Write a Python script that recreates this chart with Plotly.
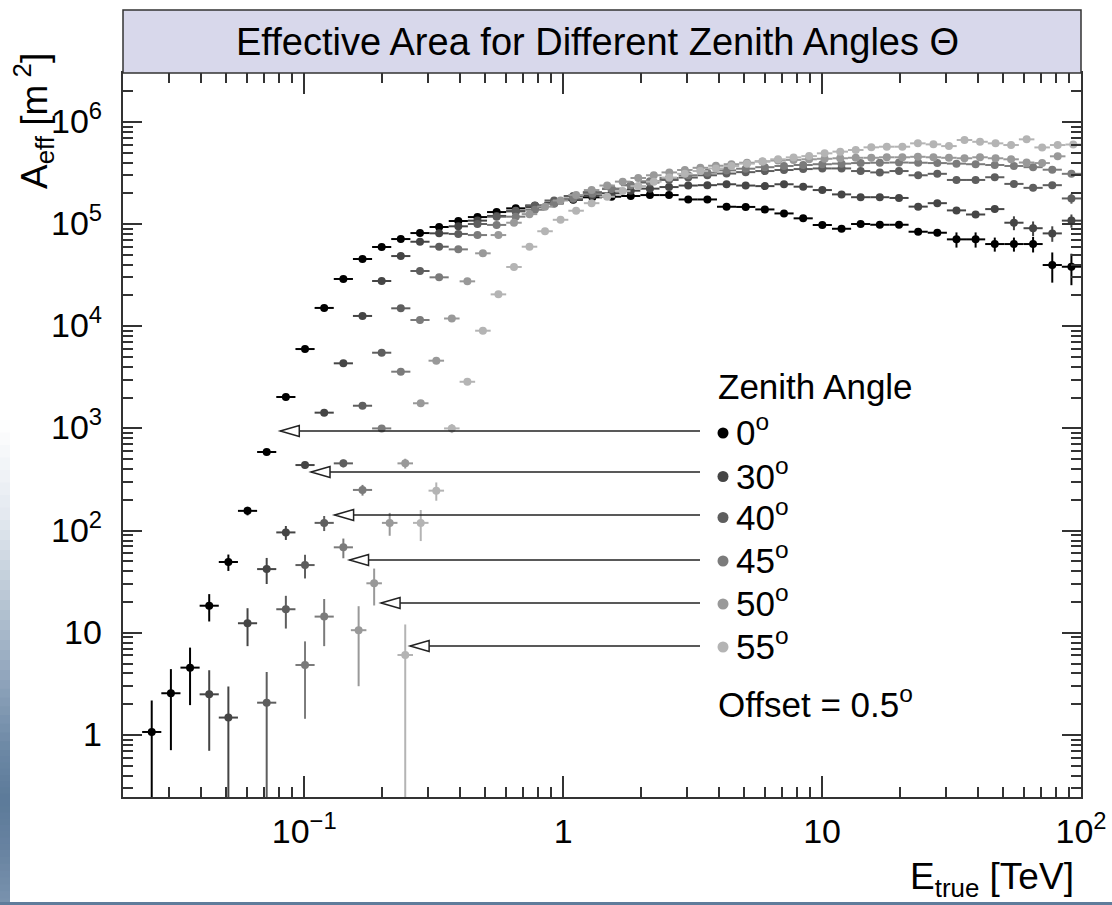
import math
import plotly.graph_objects as go

# ---------------------------------------------------------------------------
# Energy binning: bin centres in TeV
# E_FULL : 50 log bins from 10^-1.7 to 10^2 TeV (0, 30, 40, 45 deg tables)
# E_HIGH : 50 log bins from 10^-1.0 to 10^2 TeV (50, 55 deg tables)
# ---------------------------------------------------------------------------
E_FULL = [0.02173, 0.02576, 0.03055, 0.03622, 0.04295, 0.05093, 0.06039, 0.07161,
          0.08492, 0.1007, 0.1194, 0.1416, 0.1679, 0.1991, 0.2360, 0.2799, 0.3319,
          0.3936, 0.4667, 0.5534, 0.6561, 0.7780, 0.9226, 1.094, 1.297, 1.538,
          1.824, 2.163, 2.564, 3.041, 3.606, 4.276, 5.070, 6.012, 7.129, 8.453,
          10.02, 11.89, 14.09, 16.71, 19.82, 23.50, 27.86, 33.04, 39.17, 46.45,
          55.08, 65.31, 77.45, 91.83]
HALF_FULL = 0.037

E_HIGH = [0.1072, 0.1230, 0.1413, 0.1622, 0.1862, 0.2138, 0.2455, 0.2818, 0.3236,
          0.3715, 0.4266, 0.4898, 0.5623, 0.6457, 0.7413, 0.8511, 0.9772, 1.122,
          1.288, 1.479, 1.698, 1.950, 2.239, 2.570, 2.951, 3.388, 3.890, 4.467,
          5.129, 5.888, 6.761, 7.762, 8.913, 10.23, 11.75, 13.49, 15.49, 17.78,
          20.42, 23.44, 26.92, 30.90, 35.48, 40.74, 46.77, 53.70, 61.66, 70.79,
          81.28, 93.33]
HALF_HIGH = 0.030

# ---------------------------------------------------------------------------
# Effective areas [m^2] and statistical errors, one list per zenith angle,
# starting at the first filled bin of the corresponding energy grid
# ---------------------------------------------------------------------------
ANGLES = ["0", "30", "40", "45", "50", "55"]
COLORS = ["#000000", "#454545", "#5e5e5e", "#7b7b7b", "#999999", "#b4b4b4"]
GRIDS = ["full", "full", "full", "full", "high", "high"]
FIRST_BIN = [1, 4, 7, 9, 3, 6]

A_00 = [1.07, 2.56, 4.56, 18.4, 49.3, 156, 588, 2030, 5980, 15100, 29000, 45500,
        59600, 71300, 81600, 93500, 107000, 117000, 131000, 142500, 151000, 161600,
        173000, 182600, 185000, 188000, 192000, 192000, 174000, 174000, 147600,
        147000, 139000, 127000, 113700, 97800, 89900, 100000, 98400, 98400, 84100,
        82200, 70800, 70800, 63700, 63700, 63700, 39700, 38200]
DA_00 = [1.1, 1.85, 2.6, 5.5, 9, 15, 30, 60, 100, 150, 200, 250, 300, 300, 300, 350,
         400, 400, 500, 500, 600, 600, 700, 700, 800, 800, 900, 900, 1000, 1000,
         1200, 1200, 1500, 1500, 2000, 2000, 2500, 3000, 3500, 4000, 6000, 6000,
         12000, 12000, 10000, 10000, 11000, 13000, 13000]

A_30 = [2.5, 1.48, 12.4, 42, 96, 438, 1426, 4335, 12600, 27700, 48600, 67100, 81100,
        95000, 108000, 120000, 133000, 146000, 160000, 175000, 190000, 200000,
        212000, 222000, 230000, 238000, 240000, 245000, 238000, 235000, 245000,
        232000, 215000, 195000, 183000, 183000, 180000, 148000, 160000, 136000,
        124000, 140000, 103000, 91000, 81000, 108000]
DA_30 = [1.8, 1.5, 5, 12, 15, 30, 50, 100, 200, 300, 400, 500, 600, 700, 800, 900,
         1000, 1000, 1200, 1200, 1400, 1400, 1600, 1600, 1800, 1800, 2000, 2000,
         2500, 2500, 3000, 3000, 3500, 3500, 4000, 4000, 4500, 5000, 5500, 6000,
         8000, 10000, 16000, 15000, 14000, 16000]

A_40 = [2.07, 17, 46, 119, 455, 1667, 5505, 14970, 34700, 60000, 80000, 100000,
        118000, 135000, 152000, 170000, 188000, 205000, 222000, 240000, 255000,
        270000, 285000, 300000, 312000, 322000, 330000, 338000, 345000, 350000,
        350000, 330000, 320000, 330000, 300000, 310000, 270000, 270000, 287000,
        247000, 226000, 240000, 178000, 166000, 143000, 175000]
DA_40 = [2.07, 6, 12, 20, 40, 80, 150, 300, 500, 700, 800, 900, 1000, 1100, 1200,
         1300, 1400, 1500, 1600, 1700, 1800, 2000, 2200, 2400, 2600, 2800, 3000,
         3200, 3400, 3600, 4000, 4500, 5000, 6000, 7000, 8000, 9000, 10000, 12000,
         14000, 16000, 18000, 20000, 20000, 20000, 24000]

A_45 = [4.84, 14.4, 68.6, 250, 1000, 3590, 11500, 30100, 56500, 78000, 98000,
        118000, 138000, 158000, 178000, 198000, 220000, 240000, 262000, 282000,
        300000, 318000, 335000, 348000, 360000, 370000, 378000, 385000, 390000,
        395000, 398000, 400000, 398000, 395000, 390000, 385000, 378000, 370000,
        360000, 340000, 310000, 287000, 253000, 235000, 300000]
DA_45 = [3.4, 7, 15, 30, 60, 120, 250, 500, 800, 1000, 1100, 1200, 1300, 1400, 1500,
         1600, 1800, 2000, 2200, 2400, 2600, 2800, 3000, 3200, 3400, 3600, 3800,
         4000, 4500, 5000, 5500, 6000, 7000, 8000, 9000, 10000, 12000, 14000, 16000,
         18000, 20000, 22000, 24000, 26000, 30000]

A_50 = [10.6, 30.5, 119, 455, 1762, 4600, 11900, 27500, 51700, 78000, 103000,
        125000, 148000, 170000, 192000, 215000, 238000, 260000, 282000, 300000,
        320000, 338000, 355000, 372000, 385000, 398000, 410000, 418000, 424000,
        430000, 435000, 440000, 445000, 445000, 450000, 450000, 455000, 450000,
        445000, 440000, 450000, 440000, 430000, 400000, 395000, 460000]
DA_50 = [7.6, 12, 30, 50, 100, 200, 400, 700, 1000, 1200, 1400, 1600, 1800, 2000,
         2200, 2400, 2600, 2800, 3000, 3200, 3400, 3600, 3800, 4000, 4200, 4400,
         4600, 4800, 5000, 5500, 6000, 6500, 7000, 7500, 8000, 8500, 9000, 9500,
         10000, 11000, 12000, 13000, 14000, 15000, 16000, 18000]

A_55 = [6.06, 119, 246, 1000, 2860, 9040, 20500, 38000, 60000, 85000, 110000, 135000,
        160000, 185000, 210000, 235000, 260000, 285000, 310000, 330000, 350000,
        370000, 390000, 410000, 430000, 449000, 462000, 492000, 511000, 530000,
        563000, 571000, 571000, 616000, 602000, 579000, 664000, 638000, 616000,
        593000, 674000, 562000, 593000, 600000]
DA_55 = [6.0, 40, 50, 100, 200, 400, 700, 1000, 1300, 1600, 1900, 2200, 2500, 2800,
         3100, 3400, 3700, 4000, 4300, 4600, 4900, 5200, 5500, 5800, 6100, 6400,
         6700, 7000, 7500, 8000, 8500, 9000, 9500, 10000, 11000, 12000, 13000,
         14000, 15000, 16000, 17000, 18000, 19000, 20000]

AREAS = [A_00, A_30, A_40, A_45, A_50, A_55]
ERRORS = [DA_00, DA_30, DA_40, DA_45, DA_50, DA_55]

# energy thresholds marked by the arrows [TeV]
E_THRESHOLD = [0.0808, 0.1062, 0.131, 0.1496, 0.198, 0.2564]

X_TICKS = [0.1, 1, 10, 100]
X_TICK_TEXT = ["10<sup>\u22121</sup>", "1", "10", "10<sup>2</sup>"]
Y_TICKS = [1, 10, 100, 1e3, 1e4, 1e5, 1e6]
Y_TICK_TEXT = ["1", "10", "10<sup>2</sup>", "10<sup>3</sup>", "10<sup>4</sup>",
               "10<sup>5</sup>", "10<sup>6</sup>"]

X_RANGE = [-1.7, 2.0]        # log10 TeV
Y_RANGE = [-0.607, 6.478]    # log10 m^2

# ---------------------------------------------------------------------------
FONT = "Liberation Sans, Arial, Helvetica, sans-serif"
AXIS_COL = "#333333"
W, H = 1112, 905
L, R, T, B = 123, 31, 73, 108
PW, PH = W - L - R, H - T - B
TICK_FONT = 34


def px_x(px):
    return (px - L) / PW


def px_y(py):
    return (H - B - py) / PH


def frac_log_x(e):
    return (math.log10(e) - X_RANGE[0]) / (X_RANGE[1] - X_RANGE[0])


fig = go.Figure()

for angle, grid_name, first, vals, errs, col in zip(ANGLES, GRIDS, FIRST_BIN,
                                                    AREAS, ERRORS, COLORS):
    grid, half = (E_FULL, HALF_FULL) if grid_name == "full" else (E_HIGH, HALF_HIGH)
    x = grid[first:first + len(vals)]
    ex_hi = [e * (10 ** half - 1) for e in x]
    ex_lo = [e * (1 - 10 ** -half) for e in x]
    fig.add_trace(go.Scatter(
        x=x, y=vals, mode="markers", name=angle + "\u00b0",
        marker=dict(color=col, size=8, line=dict(width=0)),
        error_x=dict(type="data", symmetric=False, array=ex_hi, arrayminus=ex_lo,
                     color=col, thickness=2, width=0),
        error_y=dict(type="data", array=errs, color=col, thickness=2, width=0),
        showlegend=False,
    ))

x_minor = [m * 10 ** d for d in range(-2, 2) for m in range(2, 10)]
y_minor = [m * 10 ** d for d in range(-1, 7) for m in range(2, 10)]

axis_common = dict(
    type="log", showgrid=False, zeroline=False, showline=True,
    linecolor=AXIS_COL, linewidth=2, mirror="ticks", ticks="inside",
    tickwidth=1.5, tickcolor=AXIS_COL, automargin=False,
    tickfont=dict(family=FONT, size=TICK_FONT, color="black"),
)
fig.update_xaxes(range=X_RANGE, ticklen=21, tickvals=X_TICKS, ticktext=X_TICK_TEXT,
                 ticklabelstandoff=3,
                 minor=dict(ticks="inside", ticklen=10, tickwidth=1.5,
                            tickcolor=AXIS_COL, tickvals=x_minor, showgrid=False),
                 **axis_common)
# y tick labels are placed as annotations so all decades line up on the right
fig.update_yaxes(range=Y_RANGE, ticklen=19, tickvals=Y_TICKS, showticklabels=False,
                 minor=dict(ticks="inside", ticklen=10, tickwidth=1.5,
                            tickcolor=AXIS_COL, tickvals=y_minor, showgrid=False),
                 **axis_common)

shapes = []
annotations = []

for v, txt in zip(Y_TICKS, Y_TICK_TEXT):
    annotations.append(dict(xref="paper", yref="y", x=px_x(104), y=math.log10(v),
                            text=txt, showarrow=False, xanchor="right",
                            yanchor="bottom", yshift=-20,
                            font=dict(family=FONT, size=TICK_FONT, color="black")))

# title pad above the frame
shapes.append(dict(type="rect", xref="paper", yref="paper", x0=0, x1=1,
                   y0=1, y1=px_y(10), fillcolor="#d8d8eb",
                   line=dict(color=AXIS_COL, width=1.5), layer="above"))
annotations.append(dict(xref="paper", yref="paper", x=px_x(597), y=px_y(42),
                        text="Effective Area for Different Zenith Angles \u0398",
                        showarrow=False, xanchor="center", yanchor="middle",
                        font=dict(family=FONT, size=38, color="black")))

# axis titles
annotations.append(dict(xref="paper", yref="paper", x=px_x(33), y=px_y(121),
                        text="A<sub>eff</sub> [m<sup> 2</sup>]", textangle=-90,
                        showarrow=False, xanchor="center", yanchor="middle",
                        font=dict(family=FONT, size=37, color="black")))
annotations.append(dict(xref="paper", yref="paper", x=px_x(1076), y=px_y(879),
                        text="E<sub>true</sub> [TeV]",
                        showarrow=False, xanchor="right", yanchor="middle",
                        font=dict(family=FONT, size=37, color="black")))

# legend block: header, dots, labels, arrows pointing at the thresholds
LEG_FONT = 35
annotations.append(dict(xref="paper", yref="paper", x=px_x(716), y=px_y(387),
                        text="Zenith Angle", showarrow=False, xanchor="left",
                        yanchor="middle",
                        font=dict(family=FONT, size=LEG_FONT, color="black")))
ROW_Y = [433, 476.5, 517.5, 561, 604, 647]
ARROW_Y = [431, 472, 515, 560, 603, 646]
DOT_X, TEXT_X, LINE_END_X = 723, 734, 700
for angle, col, ry, ay, thr in zip(ANGLES, COLORS, ROW_Y, ARROW_Y, E_THRESHOLD):
    shapes.append(dict(type="circle", xref="paper", yref="paper",
                       xsizemode="pixel", ysizemode="pixel",
                       xanchor=px_x(DOT_X), yanchor=px_y(ry),
                       x0=-5.5, x1=5.5, y0=-5.5, y1=5.5,
                       fillcolor=col, line=dict(width=0)))
    annotations.append(dict(xref="paper", yref="paper", x=px_x(TEXT_X), y=px_y(ry - 3),
                            text=angle + "<sup>o</sup>", showarrow=False,
                            xanchor="left", yanchor="middle",
                            font=dict(family=FONT, size=LEG_FONT, color="black")))
    tip = frac_log_x(thr)
    shapes.append(dict(type="line", xref="paper", yref="paper",
                       x0=tip, x1=px_x(LINE_END_X), y0=px_y(ay), y1=px_y(ay),
                       line=dict(color="#222222", width=1.5)))
    shapes.append(dict(type="path", xref="paper", yref="paper",
                       xsizemode="pixel", ysizemode="pixel",
                       xanchor=tip, yanchor=px_y(ay),
                       path="M0,0 L19,5.5 L19,-5.5 Z",
                       fillcolor="white", line=dict(color="#222222", width=1.5)))

annotations.append(dict(xref="paper", yref="paper", x=px_x(716), y=px_y(702),
                        text="Offset = 0.5<sup>o</sup>", showarrow=False,
                        xanchor="left", yanchor="middle",
                        font=dict(family=FONT, size=LEG_FONT, color="black")))


# slide backdrop showing at the left and bottom edges (smooth vertical blend)
def _mix(c1, c2, t):
    a = [int(c1[i:i + 2], 16) for i in (1, 3, 5)]
    b = [int(c2[i:i + 2], 16) for i in (1, 3, 5)]
    return "#" + "".join("%02x" % round(a[k] + (b[k] - a[k]) * t) for k in range(3))


STOPS = [(420, "#ffffff"), (520, "#e2e8ef"), (600, "#b8c6d4"), (680, "#8fa4bb"),
         (750, "#6c88a5"), (800, "#5c7a99"), (850, "#6883a1"), (905, "#7a93ae")]
for (y0, c0), (y1, c1) in zip(STOPS[:-1], STOPS[1:]):
    n = 8
    for k in range(n):
        ya, yb = y0 + (y1 - y0) * k / n, y0 + (y1 - y0) * (k + 1) / n
        shapes.append(dict(type="rect", xref="paper", yref="paper",
                           x0=px_x(0), x1=px_x(10), y0=px_y(yb + 1.5), y1=px_y(ya),
                           fillcolor=_mix(c0, c1, (k + 0.5) / n),
                           line=dict(width=0), layer="below"))
shapes.append(dict(type="rect", xref="paper", yref="paper",
                   x0=px_x(0), x1=px_x(W), y0=px_y(905), y1=px_y(902),
                   fillcolor="#5f7c9b", line=dict(width=0), layer="below"))

fig.update_layout(
    width=W, height=H, margin=dict(l=L, r=R, t=T, b=B),
    paper_bgcolor="white", plot_bgcolor="white",
    font=dict(family=FONT, size=32, color="black"),
    shapes=shapes, annotations=annotations, showlegend=False,
)

fig.write_html("out.html")
